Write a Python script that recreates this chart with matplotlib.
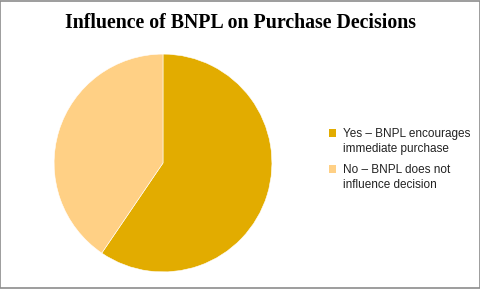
import matplotlib.pyplot as plt
from matplotlib.patches import Rectangle

# data
labels = ["Yes \u2013 BNPL encourages\nimmediate purchase",
          "No \u2013 BNPL does not\ninfluence decision"]
shares = [59.5, 40.5]
colors = ["#E2AC00", "#FFD085"]

W, H = 481, 289
fig = plt.figure(figsize=(W / 100, H / 100), dpi=100)

# grey frame round the whole chart
fig.patches.append(Rectangle((0.001, 0.002), 0.997, 0.995, transform=fig.transFigure,
                             fill=False, edgecolor="#8c8c8c", linewidth=1.2))

fig.text(0.5, 1 - 23 / H, "Influence of BNPL on Purchase Decisions",
         ha="center", va="center", fontsize=14.3, fontweight="bold",
         family="Liberation Serif")

# pie: centre ~(163,163) px, radius ~110 px
ax = fig.add_axes([(163 - 110) / W, (H - 273) / H, 220 / W, 220 / H])
ax.pie(shares, colors=colors, startangle=90, counterclock=False, radius=1,
       wedgeprops=dict(linewidth=0.4, edgecolor="white"))
ax.set_xlim(-1.01, 1.01)
ax.set_ylim(-1.01, 1.01)
ax.axis("off")

# legend drawn by hand so the key sits on the first text line (Excel style)
y0, step = 133, 36
for i, (lab, c) in enumerate(zip(labels, colors)):
    y = y0 + i * step
    fig.patches.append(Rectangle((329 / W, 1 - (y + 4) / H), 7.5 / W, 8 / H,
                                 transform=fig.transFigure, facecolor=c,
                                 edgecolor="none"))
    fig.text(343 / W, 1 - (y - 5) / H, lab, ha="left", va="top",
             fontsize=8.5, family="Liberation Sans", color="#222222",
             linespacing=1.3)

fig.savefig("out.png", dpi=100)
